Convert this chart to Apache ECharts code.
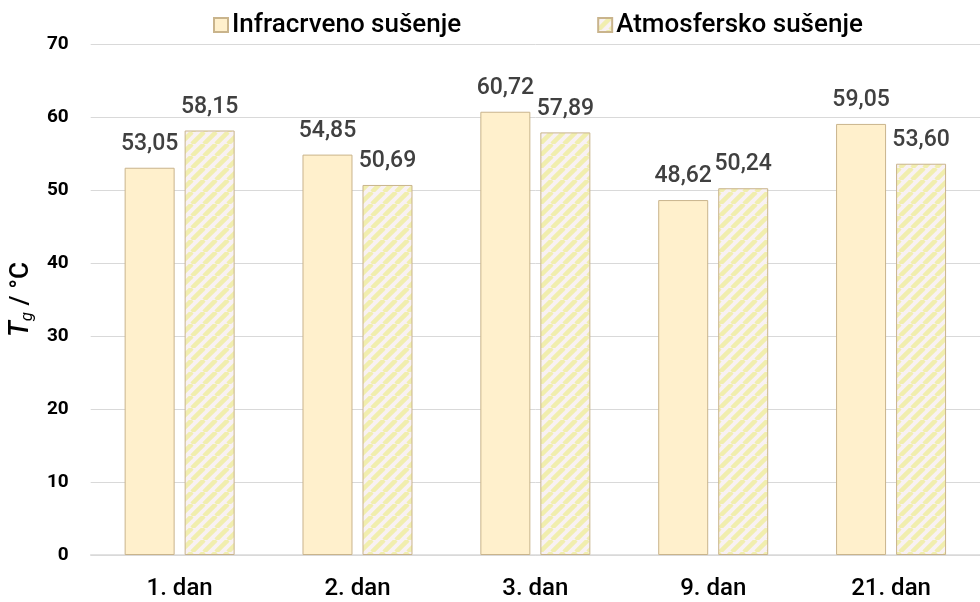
<!DOCTYPE html>
<html>
<head>
<meta charset="utf-8">
<script src="https://cdn.jsdelivr.net/npm/echarts@6/dist/echarts.min.js"></script>
<style>
  html, body { margin: 0; padding: 0; background: #fff; }
  #chart { width: 980px; height: 602px; }
</style>
</head>
<body>
<div id="chart"></div>
<script>
const categories = ['1. dan', '2. dan', '3. dan', '9. dan', '21. dan']
const infracrveno = [53.05, 54.85, 60.72, 48.62, 59.05]
const atmosfersko = [58.15, 50.69, 57.89, 50.24, 53.60]
const seriesNames = ['Infracrveno sušenje', 'Atmosfersko sušenje']

const FONT = 'Roboto, "DejaVu Sans", sans-serif'

// diagonal hatch used for the second series
const makeHatch = () => {
  const s = 12
  const c = document.createElement('canvas')
  c.width = s
  c.height = s
  const ctx = c.getContext('2d')
  ctx.fillStyle = '#f8f1f3'
  ctx.fillRect(0, 0, s, s)
  ctx.strokeStyle = '#f1eeae'
  ctx.lineWidth = 4.5
  for (let k = -s; k <= 2 * s; k += s) {
    ctx.beginPath()
    ctx.moveTo(k, s)
    ctx.lineTo(k + s, 0)
    ctx.stroke()
  }
  return c
}

const chart = echarts.init(document.getElementById('chart'))

const labelStyle = {
  show: true,
  position: 'top',
  distance: 12,
  color: '#404040',
  fontSize: 23,
  fontWeight: 500,
  fontFamily: FONT,
  formatter: p => p.value.toFixed(2).replace('.', ','),
}

chart.setOption({
  animation: false,
  backgroundColor: '#fff',
  grid: { left: 88, right: 0, top: 44, bottom: 47 },
  legend: {
    top: 7,
    left: 208,
    itemGap: 136,
    itemWidth: 14,
    itemHeight: 14,
    icon: 'rect',
    textStyle: { color: '#000', fontSize: 26, fontWeight: 500, fontFamily: FONT, padding: [0, 0, 0, -1] },
    data: seriesNames,
  },
  xAxis: {
    type: 'category',
    data: categories,
    axisTick: { show: false },
    axisLine: { lineStyle: { color: '#d9d9d9', width: 1.5 } },
    axisLabel: { color: '#000', fontSize: 24, fontWeight: 500, fontFamily: FONT, margin: 22 },
  },
  yAxis: {
    type: 'value',
    min: 0,
    max: 70,
    interval: 10,
    name: '{it|T}{sub|g}{n| / °C}',
    nameLocation: 'middle',
    nameGap: 52,
    nameRotate: 90,
    nameTextStyle: {
      rich: {
        it: { fontSize: 27, fontStyle: 'italic', fontWeight: 500, fontFamily: FONT, color: '#000' },
        sub: { fontSize: 17, fontStyle: 'italic', fontFamily: FONT, color: '#000', verticalAlign: 'bottom', padding: [12, 0, 0, 0] },
        n: { fontSize: 26, fontWeight: 500, fontFamily: FONT, color: '#000' },
      },
    },
    axisLabel: { color: '#000', fontSize: 19, fontWeight: 'bold', fontFamily: FONT, margin: 22 },
    splitLine: { lineStyle: { color: '#d9d9d9', width: 1 } },
  },
  series: [
    {
      name: seriesNames[0],
      type: 'bar',
      barWidth: 50,
      barGap: '20%',
      data: infracrveno,
      itemStyle: { color: '#fff0cc', borderColor: '#c9b48c', borderWidth: 1 },
      label: labelStyle,
    },
    {
      name: seriesNames[1],
      type: 'bar',
      barWidth: 50,
      data: atmosfersko,
      itemStyle: {
        color: { image: makeHatch(), repeat: 'repeat' },
        borderColor: '#c9b48c',
        borderWidth: 1,
      },
      label: labelStyle,
    },
  ],
})
</script>
</body>
</html>
